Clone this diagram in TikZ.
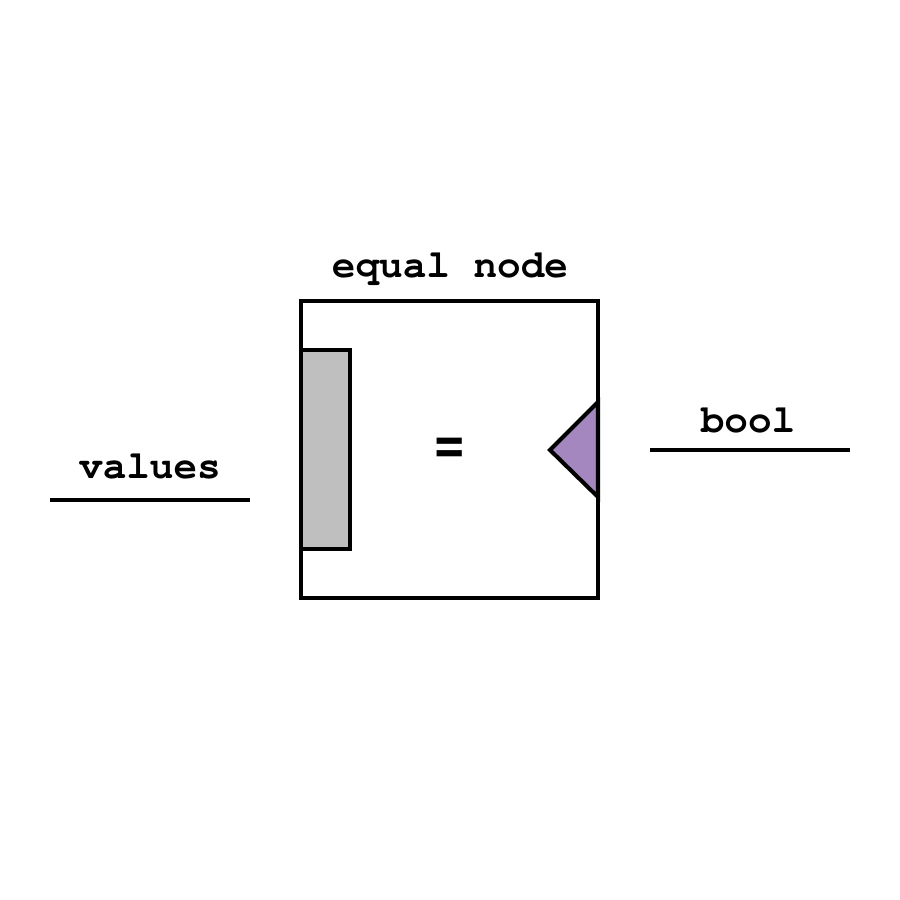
\documentclass[tikz,border=0pt]{standalone}
\usepackage[T1]{fontenc}
\renewcommand\ttdefault{pcr}
\begin{document}
\begin{tikzpicture}[lbl/.style={font=\ttfamily\bfseries\fontsize{11.2}{13}\selectfont,inner sep=0,anchor=base},
portbox/.style={draw=black,fill=black!25,line width=1.15pt,minimum width=0.49cm,minimum height=1.99cm,inner sep=0}]

\useasboundingbox (0,0) rectangle (9,9);
\node[draw=black,line width=1.15pt,minimum width=2.97cm,minimum height=2.97cm,inner sep=0] (box) at (4.495,4.505) {};
\node[portbox,anchor=west] (in) at (box.west) {};
\filldraw[draw=black,fill={rgb,255:red,163;green,135;blue,190},line width=1.15pt,line join=miter] (5.98,4.98) -- (5.50,4.50) -- (5.98,4.03) -- cycle;
\node[inner sep=0,font=\fontfamily{phv}\bfseries\fontsize{14.8}{16}\selectfont] (eq) at (4.5,4.515) {=};
\node[lbl] (title) at (4.5,6.22) {equal node};

% input wire
\coordinate (v1) at (0.5,4);
\coordinate (v2) at (2.5,4);
\draw[line width=1.15pt] (v1) -- (v2);
\node[lbl] (values) at (1.5,4.21) {values};

% output wire
\coordinate (b1) at (6.5,4.5);
\coordinate (b2) at (8.5,4.5);
\draw[line width=1.15pt] (b1) -- (b2);
\node[lbl] (bool) at (7.48,4.67) {bool};

\end{tikzpicture}
\end{document}
